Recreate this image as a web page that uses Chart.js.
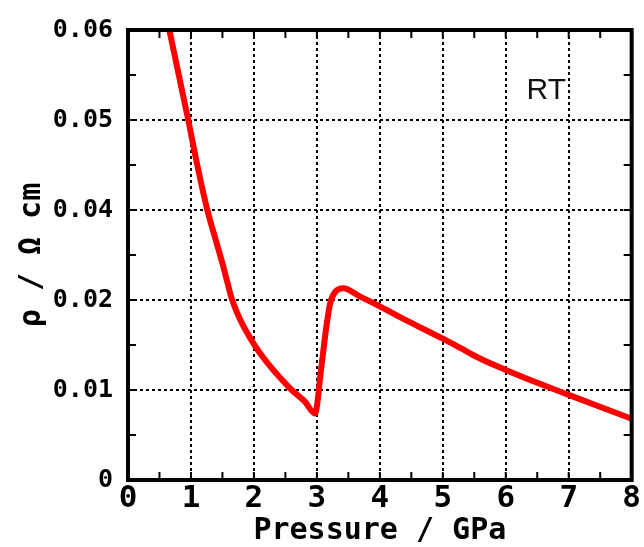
<!DOCTYPE html>
<html>
<head>
<meta charset="utf-8">
<script src="https://cdn.jsdelivr.net/npm/chart.js@4.4.1/dist/chart.umd.min.js"></script>
<style>
  body { margin: 0; background: #fff; }
</style>
</head>
<body>
<canvas id="rhoChart" width="644" height="547"></canvas>
<script>
// pressure (GPa) and resistivity (y in axis units, ticks evenly spaced)
var pressure = [0.656, 0.957, 1.10, 1.26, 1.38, 1.51, 1.577, 1.646, 1.725, 1.804, 1.857, 1.99, 2.095, 2.227, 2.36, 2.6, 2.81, 2.97, 3.07, 3.15, 3.21, 3.29, 3.42, 3.68, 4.0, 4.29, 5.0, 5.27, 5.59, 6.01, 6.5, 7.02, 8.0];
var rho = [0.05, 0.04, 0.0350, 0.0300, 0.0270, 0.0238, 0.0220, 0.0202, 0.0187, 0.0175, 0.0168, 0.0152, 0.0141, 0.0129, 0.0118, 0.0100, 0.0087, 0.0074, 0.0125, 0.0170, 0.0196, 0.0209, 0.0213, 0.0204, 0.0193, 0.0182, 0.0157, 0.0147, 0.0135, 0.0122, 0.0108, 0.0094, 0.0068];
// the tick labels as printed on the original figure
var yTickLabels = ['0', '0.01', '0.02', '0.04', '0.05', '0.06'];
var xTickLabels = ['0', '1', '2', '3', '4', '5', '6', '7', '8'];

var rtLabel = { text: 'RT', x: 6.33, y: 0.0423 };

var points = [];
for (var i = 0; i < pressure.length; i++) {
    points.push({ x: pressure[i], y: rho[i] });
}

var monoFont = '"DejaVu Sans Mono", monospace';

// frame, inward ticks and the RT note
var framePlugin = {
    id: 'frame',
    afterDraw: function (chart) {
        var ctx = chart.ctx, a = chart.chartArea;
        var xs = chart.scales.x, ys = chart.scales.y;
        var len = 8;
        ctx.save();
        ctx.strokeStyle = '#000';
        ctx.lineWidth = 2;
        ctx.beginPath();
        for (var v = 0.5; v < 8; v += 0.5) {
            var px = xs.getPixelForValue(v);
            ctx.moveTo(px, a.bottom); ctx.lineTo(px, a.bottom - len);
            ctx.moveTo(px, a.top); ctx.lineTo(px, a.top + len);
        }
        for (var k = 1; k < 10; k++) {
            var py = ys.getPixelForValue(k * 0.005);
            ctx.moveTo(a.left, py); ctx.lineTo(a.left + len, py);
            ctx.moveTo(a.right, py); ctx.lineTo(a.right - len, py);
        }
        ctx.stroke();
        ctx.lineWidth = 4;
        ctx.strokeRect(a.left, a.top, a.right - a.left, a.bottom - a.top);

        ctx.fillStyle = '#111';
        ctx.font = '30px "Liberation Sans", Arial, sans-serif';
        ctx.textAlign = 'left';
        ctx.textBaseline = 'alphabetic';
        ctx.fillText(rtLabel.text, xs.getPixelForValue(rtLabel.x), ys.getPixelForValue(rtLabel.y));
        ctx.restore();
    }
};

new Chart(document.getElementById('rhoChart'), {
    type: 'line',
    plugins: [framePlugin],
    data: {
        datasets: [
            {
                data: points,
                borderColor: '#ff0000',
                borderWidth: 6,
                pointRadius: 0,
                fill: false,
                cubicInterpolationMode: 'monotone',
                borderCapStyle: 'round',
                borderJoinStyle: 'round'
            }
        ]
    },
    options: {
        responsive: false,
        animation: false,
        layout: { padding: { left: 0, top: 30, right: 12, bottom: 0 } },
        plugins: {
            legend: { display: false },
            tooltip: { enabled: false }
        },
        scales: {
            x: {
                type: 'linear',
                min: 0,
                max: 8,
                afterFit: function (scale) { scale.height = 67; },
                ticks: {
                    stepSize: 1,
                    padding: 3,
                    color: '#000',
                    font: { family: monoFont, size: 31, weight: 'bold', lineHeight: 1 },
                    callback: function (value, index) { return xTickLabels[index]; }
                },
                grid: { color: '#000', lineWidth: 2, drawTicks: false },
                border: { display: false, dash: [3, 3] },
                title: {
                    display: true,
                    text: 'Pressure / GPa',
                    color: '#000',
                    font: { family: monoFont, size: 30, weight: 'bold', lineHeight: 1 },
                    padding: { top: 0, bottom: 1 }
                }
            },
            y: {
                type: 'linear',
                min: 0,
                max: 0.05,
                afterFit: function (scale) { scale.width = 128; },
                ticks: {
                    stepSize: 0.01,
                    padding: 15,
                    color: '#000',
                    font: { family: monoFont, size: 25, weight: 'bold' },
                    callback: function (value, index) { return yTickLabels[index]; }
                },
                grid: { color: '#000', lineWidth: 2, drawTicks: false },
                border: { display: false, dash: [3, 3] },
                title: {
                    display: true,
                    text: 'ρ / Ω cm',
                    color: '#000',
                    font: { family: monoFont, size: 30, weight: 'bold', lineHeight: 1.2 },
                    padding: { top: 14, bottom: 0 }
                }
            }
        }
    }
});
</script>
</body>
</html>
